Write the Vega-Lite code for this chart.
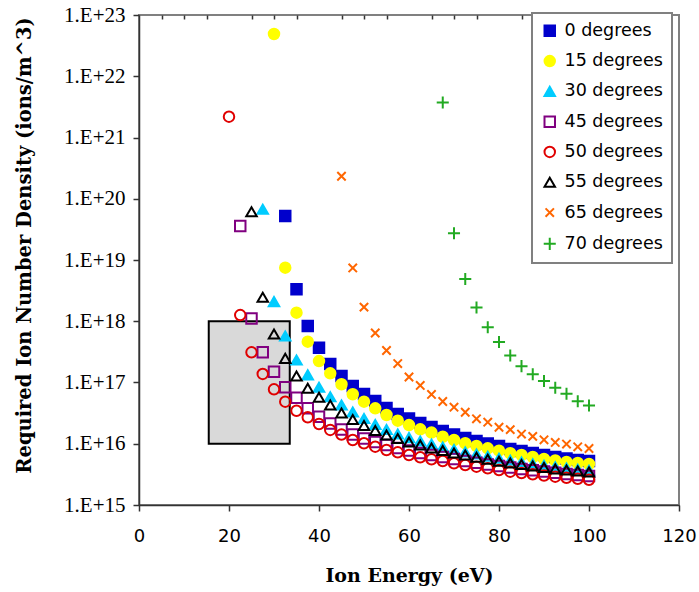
{
  "$schema": "https://vega.github.io/schema/vega-lite/v6.json",
  "width": 540,
  "height": 490,
  "autosize": "none",
  "padding": {"left": 139, "top": 15, "right": 20, "bottom": 87},
  "background": "white",
  "config": {
    "view": {"stroke": "#808080", "strokeWidth": 2},
    "axis": {"grid": false, "labelFlush": false, "domainColor": "#333333", "domainWidth": 1.5, "tickColor": "#333333", "tickWidth": 1.5, "labelColor": "#000000", "titleColor": "#000000"},
    "axisX": {"labelFont": "DejaVu Sans", "labelFontSize": 18, "tickSize": 6, "labelPadding": 16, "titleFont": "DejaVu Serif", "titleFontWeight": "bold", "titleFontSize": 19},
    "axisY": {"labelFont": "Liberation Serif", "labelFontSize": 21, "tickSize": 6, "labelPadding": 8, "titleFont": "DejaVu Serif", "titleFontWeight": "bold", "titleFontSize": 19.5},
    "legend": {"orient": "none", "legendX": 393, "legendY": -2, "strokeColor": "#808080", "strokeWidth": 2, "fillColor": "white", "padding": 9, "labelFont": "DejaVu Sans", "labelFontSize": 17.5, "labelColor": "#000000", "symbolSize": 110, "symbolStrokeWidth": 2, "rowPadding": 11.3, "labelOffset": 6}
  },
  "datasets": {
    "pts": [
      {"s":"0 degrees","e":32.5,"n":5.23e19},{"s":"0 degrees","e":35,"n":3.32e18},{"s":"0 degrees","e":37.5,"n":8.36e17},{"s":"0 degrees","e":40,"n":3.70e17},{"s":"0 degrees","e":42.5,"n":2.00e17},{"s":"0 degrees","e":45,"n":1.28e17},{"s":"0 degrees","e":47.5,"n":8.77e16},{"s":"0 degrees","e":50,"n":6.49e16},{"s":"0 degrees","e":52.5,"n":4.99e16},{"s":"0 degrees","e":55,"n":3.83e16},{"s":"0 degrees","e":57.5,"n":3.06e16},{"s":"0 degrees","e":60,"n":2.58e16},{"s":"0 degrees","e":62.5,"n":2.18e16},{"s":"0 degrees","e":65,"n":1.88e16},{"s":"0 degrees","e":67.5,"n":1.62e16},{"s":"0 degrees","e":70,"n":1.42e16},{"s":"0 degrees","e":72.5,"n":1.24e16},{"s":"0 degrees","e":75,"n":1.11e16},{"s":"0 degrees","e":77.5,"n":1.01e16},{"s":"0 degrees","e":80,"n":9.19e15},{"s":"0 degrees","e":82.5,"n":8.21e15},{"s":"0 degrees","e":85,"n":7.61e15},{"s":"0 degrees","e":87.5,"n":7.06e15},{"s":"0 degrees","e":90,"n":6.55e15},{"s":"0 degrees","e":92.5,"n":6.08e15},{"s":"0 degrees","e":95,"n":5.74e15},{"s":"0 degrees","e":97.5,"n":5.43e15},{"s":"0 degrees","e":100,"n":5.23e15},
      {"s":"15 degrees","e":30,"n":4.90e22},{"s":"15 degrees","e":32.5,"n":7.49e18},{"s":"15 degrees","e":35,"n":1.38e18},{"s":"15 degrees","e":37.5,"n":4.64e17},{"s":"15 degrees","e":40,"n":2.24e17},{"s":"15 degrees","e":42.5,"n":1.41e17},{"s":"15 degrees","e":45,"n":9.35e16},{"s":"15 degrees","e":47.5,"n":6.42e16},{"s":"15 degrees","e":50,"n":4.86e16},{"s":"15 degrees","e":52.5,"n":3.79e16},{"s":"15 degrees","e":55,"n":2.95e16},{"s":"15 degrees","e":57.5,"n":2.38e16},{"s":"15 degrees","e":60,"n":2.02e16},{"s":"15 degrees","e":62.5,"n":1.72e16},{"s":"15 degrees","e":65,"n":1.52e16},{"s":"15 degrees","e":67.5,"n":1.30e16},{"s":"15 degrees","e":70,"n":1.15e16},{"s":"15 degrees","e":72.5,"n":1.02e16},{"s":"15 degrees","e":75,"n":9.19e15},{"s":"15 degrees","e":77.5,"n":8.43e15},{"s":"15 degrees","e":80,"n":7.70e15},{"s":"15 degrees","e":82.5,"n":6.99e15},{"s":"15 degrees","e":85,"n":6.55e15},{"s":"15 degrees","e":87.5,"n":6.08e15},{"s":"15 degrees","e":90,"n":5.64e15},{"s":"15 degrees","e":92.5,"n":5.33e15},{"s":"15 degrees","e":95,"n":5.04e15},{"s":"15 degrees","e":97.5,"n":4.85e15},{"s":"15 degrees","e":100,"n":4.67e15},
      {"s":"30 degrees","e":27.5,"n":6.73e19},{"s":"30 degrees","e":30,"n":2.09e18},{"s":"30 degrees","e":32.5,"n":5.74e17},{"s":"30 degrees","e":35,"n":2.33e17},{"s":"30 degrees","e":37.5,"n":1.33e17},{"s":"30 degrees","e":40,"n":8.35e16},{"s":"30 degrees","e":42.5,"n":5.86e16},{"s":"30 degrees","e":45,"n":4.29e16},{"s":"30 degrees","e":47.5,"n":3.30e16},{"s":"30 degrees","e":50,"n":2.58e16},{"s":"30 degrees","e":52.5,"n":2.06e16},{"s":"30 degrees","e":55,"n":1.71e16},{"s":"30 degrees","e":57.5,"n":1.44e16},{"s":"30 degrees","e":60,"n":1.26e16},{"s":"30 degrees","e":62.5,"n":1.11e16},{"s":"30 degrees","e":65,"n":9.91e15},{"s":"30 degrees","e":67.5,"n":8.85e15},{"s":"30 degrees","e":70,"n":8.06e15},{"s":"30 degrees","e":72.5,"n":7.33e15},{"s":"30 degrees","e":75,"n":6.80e15},{"s":"30 degrees","e":77.5,"n":6.24e15},{"s":"30 degrees","e":80,"n":5.79e15},{"s":"30 degrees","e":82.5,"n":5.37e15},{"s":"30 degrees","e":85,"n":5.04e15},{"s":"30 degrees","e":87.5,"n":4.72e15},{"s":"30 degrees","e":90,"n":4.45e15},{"s":"30 degrees","e":92.5,"n":4.20e15},{"s":"30 degrees","e":95,"n":4.02e15},{"s":"30 degrees","e":97.5,"n":3.84e15},{"s":"30 degrees","e":100,"n":3.69e15},
      {"s":"45 degrees","e":22.5,"n":3.59e19},{"s":"45 degrees","e":25,"n":1.11e18},{"s":"45 degrees","e":27.5,"n":3.11e17},{"s":"45 degrees","e":30,"n":1.50e17},{"s":"45 degrees","e":32.5,"n":8.35e16},{"s":"45 degrees","e":35,"n":5.65e16},{"s":"45 degrees","e":37.5,"n":3.79e16},{"s":"45 degrees","e":40,"n":2.76e16},{"s":"45 degrees","e":42.5,"n":2.14e16},{"s":"45 degrees","e":45,"n":1.71e16},{"s":"45 degrees","e":47.5,"n":1.42e16},{"s":"45 degrees","e":50,"n":1.22e16},{"s":"45 degrees","e":52.5,"n":1.07e16},{"s":"45 degrees","e":55,"n":9.54e15},{"s":"45 degrees","e":57.5,"n":8.52e15},{"s":"45 degrees","e":60,"n":7.76e15},{"s":"45 degrees","e":62.5,"n":7.06e15},{"s":"45 degrees","e":65,"n":6.55e15},{"s":"45 degrees","e":67.5,"n":6.08e15},{"s":"45 degrees","e":70,"n":5.64e15},{"s":"45 degrees","e":72.5,"n":5.23e15},{"s":"45 degrees","e":75,"n":4.89e15},{"s":"45 degrees","e":77.5,"n":4.58e15},{"s":"45 degrees","e":80,"n":4.33e15},{"s":"45 degrees","e":82.5,"n":4.09e15},{"s":"45 degrees","e":85,"n":3.87e15},{"s":"45 degrees","e":87.5,"n":3.69e15},{"s":"45 degrees","e":90,"n":3.51e15},{"s":"45 degrees","e":92.5,"n":3.36e15},{"s":"45 degrees","e":95,"n":3.21e15},{"s":"45 degrees","e":97.5,"n":3.09e15},{"s":"45 degrees","e":100,"n":2.98e15},
      {"s":"50 degrees","e":20,"n":2.19e21},{"s":"50 degrees","e":22.5,"n":1.26e18},{"s":"50 degrees","e":25,"n":3.11e17},{"s":"50 degrees","e":27.5,"n":1.38e17},{"s":"50 degrees","e":30,"n":7.74e16},{"s":"50 degrees","e":32.5,"n":4.86e16},{"s":"50 degrees","e":35,"n":3.46e16},{"s":"50 degrees","e":37.5,"n":2.70e16},{"s":"50 degrees","e":40,"n":2.10e16},{"s":"50 degrees","e":42.5,"n":1.68e16},{"s":"50 degrees","e":45,"n":1.41e16},{"s":"50 degrees","e":47.5,"n":1.15e16},{"s":"50 degrees","e":50,"n":1.02e16},{"s":"50 degrees","e":52.5,"n":8.95e15},{"s":"50 degrees","e":55,"n":7.91e15},{"s":"50 degrees","e":57.5,"n":7.25e15},{"s":"50 degrees","e":60,"n":6.55e15},{"s":"50 degrees","e":62.5,"n":6.01e15},{"s":"50 degrees","e":65,"n":5.57e15},{"s":"50 degrees","e":67.5,"n":5.23e15},{"s":"50 degrees","e":70,"n":4.80e15},{"s":"50 degrees","e":72.5,"n":4.50e15},{"s":"50 degrees","e":75,"n":4.22e15},{"s":"50 degrees","e":77.5,"n":3.97e15},{"s":"50 degrees","e":80,"n":3.73e15},{"s":"50 degrees","e":82.5,"n":3.50e15},{"s":"50 degrees","e":85,"n":3.33e15},{"s":"50 degrees","e":87.5,"n":3.17e15},{"s":"50 degrees","e":90,"n":3.03e15},{"s":"50 degrees","e":92.5,"n":2.90e15},{"s":"50 degrees","e":95,"n":2.78e15},{"s":"50 degrees","e":97.5,"n":2.68e15},{"s":"50 degrees","e":100,"n":2.58e15},
      {"s":"55 degrees","e":25,"n":6.15e19},{"s":"55 degrees","e":27.5,"n":2.46e18},{"s":"55 degrees","e":30,"n":6.19e17},{"s":"55 degrees","e":32.5,"n":2.48e17},{"s":"55 degrees","e":35,"n":1.28e17},{"s":"55 degrees","e":37.5,"n":8.04e16},{"s":"55 degrees","e":40,"n":5.73e16},{"s":"55 degrees","e":42.5,"n":4.29e16},{"s":"55 degrees","e":45,"n":3.18e16},{"s":"55 degrees","e":47.5,"n":2.49e16},{"s":"55 degrees","e":50,"n":1.99e16},{"s":"55 degrees","e":52.5,"n":1.65e16},{"s":"55 degrees","e":55,"n":1.39e16},{"s":"55 degrees","e":57.5,"n":1.22e16},{"s":"55 degrees","e":60,"n":1.07e16},{"s":"55 degrees","e":62.5,"n":9.54e15},{"s":"55 degrees","e":65,"n":8.52e15},{"s":"55 degrees","e":67.5,"n":7.76e15},{"s":"55 degrees","e":70,"n":7.06e15},{"s":"55 degrees","e":72.5,"n":6.55e15},{"s":"55 degrees","e":75,"n":6.01e15},{"s":"55 degrees","e":77.5,"n":5.57e15},{"s":"55 degrees","e":80,"n":5.17e15},{"s":"55 degrees","e":82.5,"n":4.85e15},{"s":"55 degrees","e":85,"n":4.58e15},{"s":"55 degrees","e":87.5,"n":4.33e15},{"s":"55 degrees","e":90,"n":4.09e15},{"s":"55 degrees","e":92.5,"n":3.87e15},{"s":"55 degrees","e":95,"n":3.73e15},{"s":"55 degrees","e":97.5,"n":3.59e15},{"s":"55 degrees","e":100,"n":3.46e15},
      {"s":"65 degrees","e":45,"n":2.33e20},{"s":"65 degrees","e":47.5,"n":7.43e18},{"s":"65 degrees","e":50,"n":1.70e18},{"s":"65 degrees","e":52.5,"n":6.43e17},{"s":"65 degrees","e":55,"n":3.33e17},{"s":"65 degrees","e":57.5,"n":2.04e17},{"s":"65 degrees","e":60,"n":1.23e17},{"s":"65 degrees","e":62.5,"n":8.97e16},{"s":"65 degrees","e":65,"n":6.39e16},{"s":"65 degrees","e":67.5,"n":4.90e16},{"s":"65 degrees","e":70,"n":3.95e16},{"s":"65 degrees","e":72.5,"n":3.27e16},{"s":"65 degrees","e":75,"n":2.55e16},{"s":"65 degrees","e":77.5,"n":2.25e16},{"s":"65 degrees","e":80,"n":1.86e16},{"s":"65 degrees","e":82.5,"n":1.70e16},{"s":"65 degrees","e":85,"n":1.44e16},{"s":"65 degrees","e":87.5,"n":1.32e16},{"s":"65 degrees","e":90,"n":1.16e16},{"s":"65 degrees","e":92.5,"n":1.05e16},{"s":"65 degrees","e":95,"n":9.87e15},{"s":"65 degrees","e":97.5,"n":8.92e15},{"s":"65 degrees","e":100,"n":8.36e15},
      {"s":"70 degrees","e":67.5,"n":3.73e21},{"s":"70 degrees","e":70,"n":2.73e19},{"s":"70 degrees","e":72.5,"n":4.90e18},{"s":"70 degrees","e":75,"n":1.68e18},{"s":"70 degrees","e":77.5,"n":7.97e17},{"s":"70 degrees","e":80,"n":4.58e17},{"s":"70 degrees","e":82.5,"n":2.76e17},{"s":"70 degrees","e":85,"n":1.85e17},{"s":"70 degrees","e":87.5,"n":1.36e17},{"s":"70 degrees","e":90,"n":1.06e17},{"s":"70 degrees","e":92.5,"n":8.23e16},{"s":"70 degrees","e":95,"n":6.54e16},{"s":"70 degrees","e":97.5,"n":4.95e16},{"s":"70 degrees","e":100,"n":4.21e16}
    ]
  },
  "layer": [
    {
      "data": {"values": [{"x1": 15.5, "x2": 33.5, "y1": 1e16, "y2": 1e18}]},
      "mark": {"type": "rect", "fill": "#D9D9D9", "stroke": "#000000", "strokeWidth": 2},
      "encoding": {
        "x": {"field": "x1", "type": "quantitative", "scale": {"domain": [0, 120], "nice": false},
          "axis": {"values": [0, 20, 40, 60, 80, 100, 120], "title": "Ion Energy (eV)", "titleX": 270, "titleY": 70, "titleBaseline": "middle", "titleAlign": "center"}},
        "x2": {"field": "x2"},
        "y": {"field": "y1", "type": "quantitative", "scale": {"type": "log", "domain": [1e15, 1e23], "nice": false},
          "axis": {"values": [1e15, 1e16, 1e17, 1e18, 1e19, 1e20, 1e21, 1e22, 1e23], "labelExpr": "'1.E+' + round(log(datum.value) / LN10)", "title": "Required Ion Number Density (ions/m^3)", "titleX": -115, "titleY": 230, "titleBaseline": "middle", "titleAlign": "center"}},
        "y2": {"field": "y2"}
      }
    },
    {
      "data": {"name": "pts"},
      "mark": {"type": "point", "size": 110, "strokeWidth": 2, "opacity": 1},
      "encoding": {
        "x": {"field": "e", "type": "quantitative",
          "axis": {"values": [5, 10, 15, 25, 30, 35, 45, 50, 55, 65, 70, 75, 85, 90, 95, 105, 110, 115], "labels": false, "tickSize": -4, "domain": false, "title": null}},
        "y": {"field": "n", "type": "quantitative", "title": "Required Ion Number Density (ions/m^3)"},
        "shape": {"field": "s", "type": "nominal", "title": null,
          "scale": {"domain": ["0 degrees", "15 degrees", "30 degrees", "45 degrees", "50 degrees", "55 degrees", "65 degrees", "70 degrees"],
            "range": ["square", "circle", "triangle-up", "square", "circle", "triangle-up", "M-0.8,-0.8L0.8,0.8M-0.8,0.8L0.8,-0.8", "M-1.15,0L1.15,0M0,-1.15L0,1.15"]}},
        "fill": {"field": "s", "type": "nominal", "title": null,
          "scale": {"domain": ["0 degrees", "15 degrees", "30 degrees", "45 degrees", "50 degrees", "55 degrees", "65 degrees", "70 degrees"],
            "range": ["#0000CC", "#FFFF00", "#00CCFF", "transparent", "transparent", "transparent", "transparent", "transparent"]}},
        "stroke": {"field": "s", "type": "nominal", "title": null,
          "scale": {"domain": ["0 degrees", "15 degrees", "30 degrees", "45 degrees", "50 degrees", "55 degrees", "65 degrees", "70 degrees"],
            "range": ["#0000CC", "#FFFF00", "#00CCFF", "#800080", "#E00000", "#000000", "#FF6600", "#22AA22"]}}
      }
    }
  ],
  "resolve": {"axis": {"x": "independent"}}
}
